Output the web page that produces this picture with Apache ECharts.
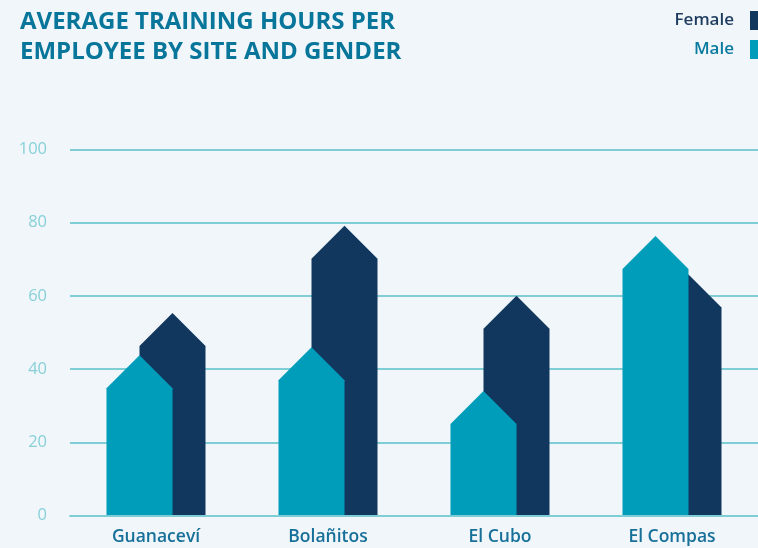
<!DOCTYPE html>
<html>
<head>
<meta charset="utf-8">
<title>Average training hours per employee</title>
<script src="https://cdn.jsdelivr.net/npm/echarts@6/dist/echarts.min.js"></script>
<style>
  html, body { margin: 0; padding: 0; background: #f0f6f9; }
  #chart { width: 758px; height: 548px; }
</style>
</head>
<body>
<div id="chart"></div>
<script>
// data (value = height of the bar's shoulder)
const sites = ['Guanaceví', 'Bolañitos', 'El Cubo', 'El Compas']
const female = [46.3, 70.1, 51.0, 56.8]
const male = [34.8, 37.0, 25.0, 67.3]
const yTicks = { min: 0, max: 100, interval: 20 }

const FEMALE_COLOR = '#11375f'
const MALE_COLOR = '#009dbb'
const GRID_COLOR = '#7fcdd5'
const FONT = '"Open Sans"'
const BAR_W = 66
const SHIFT = 16.5

// house-shaped bar: flat sides, 45deg roof above the value
function houseBar(shift, color) {
  return function (params, api) {
    const top = api.coord([api.value(0), api.value(1)])
    const base = api.coord([api.value(0), 0])
    const cx = top[0] + shift
    const hw = BAR_W / 2
    return {
      type: 'polygon',
      shape: {
        points: [
          [cx - hw, base[1]],
          [cx - hw, top[1]],
          [cx, top[1] - hw],
          [cx + hw, top[1]],
          [cx + hw, base[1]],
        ],
      },
      style: { fill: color },
    }
  }
}

const chart = echarts.init(document.getElementById('chart'))

chart.setOption({
  backgroundColor: '#f0f6f9',
  animation: false,
  title: {
    text: 'AVERAGE TRAINING HOURS PER\nEMPLOYEE BY SITE AND GENDER',
    left: 20,
    top: 7,
    padding: 0,
    textStyle: {
      color: '#08759a',
      fontFamily: FONT,
      fontWeight: 700,
      fontSize: 24,
      lineHeight: 30,
    },
  },
  legend: {
    orient: 'vertical',
    right: 0,
    top: 11,
    padding: 0,
    align: 'right',
    icon: 'rect',
    itemWidth: 8,
    itemHeight: 19,
    itemGap: 10,
    selectedMode: false,
    textStyle: {
      fontFamily: FONT,
      fontSize: 17,
      fontWeight: 600,
      padding: [0, 11, 0, 0],
    },
    data: [
      { name: 'Female', textStyle: { color: '#1d3b5e' } },
      { name: 'Male', textStyle: { color: '#0a7b9e' } },
    ],
  },
  grid: {
    left: 70,
    right: 0,
    top: 149.3,
    bottom: 32.3,
  },
  xAxis: {
    type: 'category',
    data: sites,
    z: 5,
    axisTick: { show: false },
    axisLine: { lineStyle: { color: GRID_COLOR, width: 2 } },
    axisLabel: {
      color: '#17709a',
      fontFamily: FONT,
      fontSize: 17.5,
      fontWeight: 600,
      margin: 12,
    },
  },
  yAxis: {
    type: 'value',
    min: yTicks.min,
    max: yTicks.max,
    interval: yTicks.interval,
    axisLine: { show: false },
    axisTick: { show: false },
    splitLine: { lineStyle: { color: GRID_COLOR, width: 2 } },
    axisLabel: {
      color: '#88d0d9',
      fontFamily: FONT,
      fontSize: 16.5,
      margin: 23,
      padding: [0, 0, 10, 0],
    },
  },
  series: [
    {
      name: 'Female',
      type: 'custom',
      color: FEMALE_COLOR,
      renderItem: houseBar(SHIFT, FEMALE_COLOR),
      encode: { x: 0, y: 1 },
      data: female.map((v, i) => [i, v]),
    },
    {
      name: 'Male',
      type: 'custom',
      color: MALE_COLOR,
      renderItem: houseBar(-SHIFT, MALE_COLOR),
      encode: { x: 0, y: 1 },
      data: male.map((v, i) => [i, v]),
    },
  ],
})
</script>
</body>
</html>
